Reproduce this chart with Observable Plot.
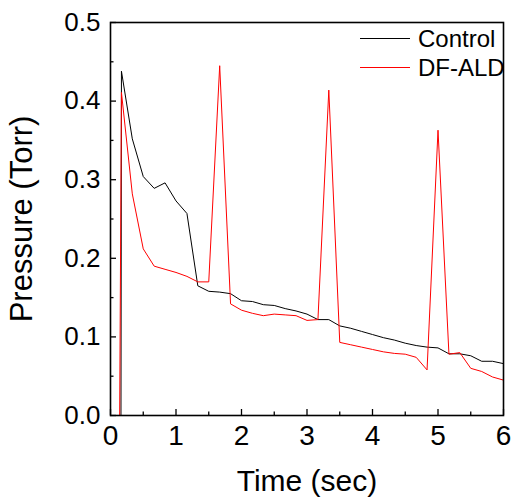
<!DOCTYPE html>
<html>
<head>
<meta charset="utf-8">
<script src="https://cdn.jsdelivr.net/npm/d3@7"></script>
<script src="https://cdn.jsdelivr.net/npm/@observablehq/plot@0.6"></script>
<style>
  html, body { margin: 0; padding: 0; background: #fff; }
  #wrap { position: relative; width: 512px; height: 502px; font-family: "Liberation Sans", Arial, sans-serif; }
  #legend { position: absolute; left: 360px; top: 24px; font-size: 24px; color: #000; }
  #legend .row { display: flex; align-items: center; height: 29px; }
  #legend .sw { width: 50px; height: 0; border-top: 1px solid; margin-right: 8px; }
</style>
</head>
<body>
<div id="wrap"><div id="legend"></div></div>
<script>
const seriesNames = ["Control", "DF-ALD"];
const seriesColors = ["#000000", "#ff0000"];

const controlTime = [0.16, 0.167, 0.333, 0.5, 0.667, 0.833, 1.0, 1.167, 1.333, 1.5, 1.667, 1.833, 2.0, 2.167, 2.333, 2.5, 2.667, 2.833, 3.0, 3.167, 3.333, 3.5, 3.667, 3.833, 4.0, 4.167, 4.333, 4.5, 4.667, 4.833, 5.0, 5.167, 5.333, 5.5, 5.667, 5.833, 6.0];
const controlPressure = [0.0, 0.438, 0.352, 0.304, 0.289, 0.296, 0.273, 0.257, 0.165, 0.158, 0.157, 0.155, 0.146, 0.145, 0.141, 0.140, 0.136, 0.133, 0.129, 0.122, 0.122, 0.114, 0.111, 0.107, 0.103, 0.099, 0.096, 0.092, 0.089, 0.087, 0.086, 0.0785, 0.0785, 0.076, 0.069, 0.069, 0.066];

const dfaldTime = [0.14, 0.167, 0.333, 0.5, 0.667, 0.833, 1.0, 1.167, 1.333, 1.5, 1.667, 1.833, 2.0, 2.167, 2.333, 2.5, 2.667, 2.833, 3.0, 3.167, 3.333, 3.5, 3.667, 3.833, 4.0, 4.167, 4.333, 4.5, 4.667, 4.833, 5.0, 5.167, 5.333, 5.5, 5.667, 5.833, 6.0];
const dfaldPressure = [0.0, 0.411, 0.282, 0.212, 0.190, 0.186, 0.182, 0.177, 0.170, 0.170, 0.445, 0.142, 0.134, 0.130, 0.127, 0.129, 0.128, 0.127, 0.121, 0.122, 0.414, 0.093, 0.090, 0.087, 0.084, 0.081, 0.079, 0.078, 0.074, 0.058, 0.363, 0.078, 0.080, 0.060, 0.056, 0.049, 0.045];

const xMajor = [0, 1, 2, 3, 4, 5, 6];
const xMinor = [0.5, 1.5, 2.5, 3.5, 4.5, 5.5];
const yMajor = [0, 0.1, 0.2, 0.3, 0.4, 0.5];
const yMinor = [0.05, 0.15, 0.25, 0.35, 0.45];
const xTitle = "Time (sec)";
const yTitle = "Pressure (Torr)";

const control = controlTime.map((t, i) => ({t, p: controlPressure[i]}));
const dfald = dfaldTime.map((t, i) => ({t, p: dfaldPressure[i]}));

const font = "Liberation Sans, Arial, sans-serif";
const W = 512, H = 502, mL = 110, mR = 9, mT = 22, mB = 87;
const innerW = W - mL - mR, innerH = H - mT - mB;
const majorLen = 6, minorLen = 3.5;

const plot = Plot.plot({
  width: W,
  height: H,
  marginLeft: mL,
  marginRight: mR,
  marginTop: mT,
  marginBottom: mB,
  style: {fontFamily: font, background: "white", color: "#000"},
  x: {domain: [0, 6]},
  y: {domain: [0, 0.5]},
  marks: [
    Plot.line(control, {x: "t", y: "p", stroke: seriesColors[0], strokeWidth: 1}),
    Plot.line(dfald, {x: "t", y: "p", stroke: seriesColors[1], strokeWidth: 1}),
    // inward ticks
    Plot.ruleX(xMajor, {insetTop: innerH - majorLen, stroke: "#000", strokeWidth: 1.3}),
    Plot.ruleX(xMinor, {insetTop: innerH - minorLen, stroke: "#000", strokeWidth: 1.3}),
    Plot.ruleY(yMajor, {insetRight: innerW - majorLen, stroke: "#000", strokeWidth: 1.3}),
    Plot.ruleY(yMinor, {insetRight: innerW - minorLen, stroke: "#000", strokeWidth: 1.3}),
    Plot.frame({stroke: "#000", strokeWidth: 1.6}),
    // tick labels
    Plot.axisX(xMajor, {tickSize: 0, tickPadding: 10, fontSize: 28, tickFormat: d3.format("d"), label: null}),
    Plot.axisY(yMajor, {tickSize: 0, tickPadding: 10, fontSize: 26, tickFormat: d3.format(".1f"), label: null}),
    // titles
    Plot.axisX([], {tickSize: 0, fontSize: 30, label: xTitle, labelAnchor: "center", labelArrow: "none", labelOffset: 75}),
    Plot.axisY([], {tickSize: 0, fontSize: 31, label: yTitle, labelAnchor: "center", labelArrow: "none", labelOffset: 101})
  ]
});

const wrap = document.getElementById("wrap");
wrap.insertBefore(plot, wrap.firstChild);

const legend = document.getElementById("legend");
seriesNames.forEach((name, i) => {
  const row = document.createElement("div");
  row.className = "row";
  const sw = document.createElement("div");
  sw.className = "sw";
  sw.style.borderColor = seriesColors[i];
  const tx = document.createElement("span");
  tx.textContent = name;
  row.appendChild(sw);
  row.appendChild(tx);
  legend.appendChild(row);
});
</script>
</body>
</html>
